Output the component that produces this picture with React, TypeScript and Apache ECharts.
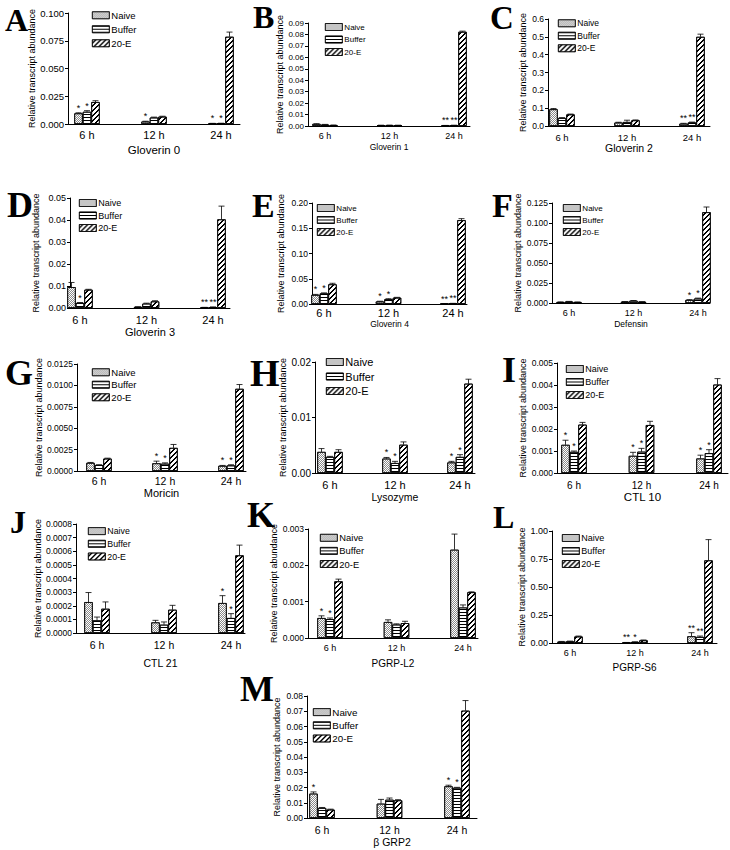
import React, { useEffect, useRef } from 'react';
import * as echarts from 'echarts';

// ---------- data ----------
const categories = ['6 h', '12 h', '24 h'];
const groupNames = ['Naive', 'Buffer', '20-E'];
const panelLetters = ['A', 'B', 'C', 'D', 'E', 'F', 'G', 'H', 'I', 'J', 'K', 'L', 'M'];
const panelTitles = ['Gloverin 0', 'Gloverin 1', 'Gloverin 2', 'Gloverin 3', 'Gloverin 4', 'Defensin', 'Moricin', 'Lysozyme', 'CTL 10', 'CTL 21', 'PGRP-L2', 'PGRP-S6', 'β GRP2'];
const yAxisTitle = 'Relative transcript abundance';
const yMaxes = [0.1, 0.09, 0.6, 0.05, 0.2, 0.125, 0.0125, 0.02, 0.005, 0.0008, 0.003, 1.0, 0.08];
const ySteps = [0.025, 0.01, 0.1, 0.01, 0.05, 0.025, 0.0025, 0.01, 0.001, 0.0001, 0.001, 0.25, 0.01];
const yDecimals = [3, 2, 1, 2, 2, 3, 4, 2, 3, 4, 3, 2, 2];

// each: [Naive, Buffer, 20-E] x [6 h, 12 h, 24 h]
const gloverin0Mean = [[0.0096, 0.0022, 0.0005], [0.011, 0.0058, 0.0006], [0.0198, 0.0066, 0.0786]];
const gloverin0Err = [[0.0005, 0.0003, 0.0001], [0.001, 0.0004, 0.0001], [0.0012, 0.0004, 0.0042]];
const gloverin0Stars = [['*', '*', '*'], ['*', '', '*'], ['', '', '']];

const gloverin1Mean = [[0.0018, 0.0006, 0.0004], [0.0012, 0.0007, 0.0006], [0.0008, 0.0006, 0.0823]];
const gloverin1Err = [[0.0002, 0.0001, 0.0001], [0.0002, 0.0001, 0.0001], [0.0001, 0.0001, 0.0006]];
const gloverin1Stars = [['', '', '**'], ['', '', '**'], ['', '', '']];

const gloverin2Mean = [[0.094, 0.019, 0.013], [0.045, 0.0225, 0.02], [0.065, 0.032, 0.5]];
const gloverin2Err = [[0.004, 0.002, 0.002], [0.002, 0.01, 0.002], [0.002, 0.002, 0.015]];
const gloverin2Stars = [['', '', '**'], ['', '', '**'], ['', '', '']];

const gloverin3Mean = [[0.0095, 0.0005, 0.0002], [0.0023, 0.002, 0.0004], [0.0083, 0.003, 0.0403]];
const gloverin3Err = [[0.0021, 0.0001, 0.0001], [0.0002, 0.0002, 0.0001], [0.0002, 0.0003, 0.006]];
const gloverin3Stars = [['', '', '**'], ['*', '', '**'], ['', '', '']];

const gloverin4Mean = [[0.018, 0.005, 0.0006], [0.021, 0.0095, 0.0012], [0.039, 0.0125, 0.166]];
const gloverin4Err = [[0.001, 0.0005, 0.0001], [0.001, 0.001, 0.0001], [0.002, 0.0007, 0.003]];
const gloverin4Stars = [['*', '*', '**'], ['*', '*', '**'], ['', '', '']];

const defensinMean = [[0.0012, 0.0016, 0.0038], [0.0018, 0.0028, 0.0055], [0.0012, 0.0015, 0.1135]];
const defensinErr = [[0.0002, 0.0002, 0.0004], [0.0002, 0.0003, 0.0006], [0.0001, 0.0002, 0.0065]];
const defensinStars = [['', '', '*'], ['', '', '*'], ['', '', '']];

const moricinMean = [[0.00095, 0.0009, 0.0006], [0.0007, 0.00085, 0.00065], [0.00145, 0.0027, 0.0096]];
const moricinErr = [[0.00005, 0.00025, 0.00005], [0.00003, 0.0001, 0.00008], [0.00005, 0.0004, 0.0005]];
const moricinStars = [['', '*', '*'], ['', '*', '*'], ['', '', '']];

const lysozymeMean = [[0.0038, 0.0026, 0.0019], [0.0029, 0.0018, 0.0029], [0.0038, 0.0051, 0.0161]];
const lysozymeErr = [[0.0006, 0.0002, 0.0002], [0.0001, 0.0003, 0.0004], [0.0004, 0.0005, 0.0008]];
const lysozymeStars = [['', '*', '*'], ['', '*', '*'], ['', '', '']];

const ctl10Mean = [[0.00128, 0.00078, 0.00066], [0.00096, 0.00097, 0.0009], [0.0022, 0.00218, 0.00402]];
const ctl10Err = [[0.00021, 0.00016, 0.00015], [0.00004, 0.00015, 0.00016], [0.0001, 0.00017, 0.00027]];
const ctl10Stars = [['*', '*', '*'], ['*', '*', '*'], ['', '', '']];

const ctl21Mean = [[0.000227, 0.000078, 0.00022], [0.000093, 0.000061, 0.00011], [0.000178, 0.000171, 0.00057]];
const ctl21Err = [[0.00007, 0.000015, 0.000054], [0.000024, 0.00002, 0.000032], [0.00005, 0.000032, 0.000075]];
const ctl21Stars = [['', '', '*'], ['', '', '*'], ['', '', '']];

const pgrpL2Mean = [[0.00055, 0.00044, 0.00243], [0.00052, 0.00037, 0.00084], [0.00156, 0.00041, 0.00126]];
const pgrpL2Err = [[0.00006, 0.00006, 0.00043], [0.00003, 0.00002, 0.00007], [0.00006, 0.00005, 0.00001]];
const pgrpL2Stars = [['*', '', ''], ['*', '', ''], ['', '', '']];

const pgrpS6Mean = [[0.012, 0.004, 0.06], [0.015, 0.009, 0.054], [0.058, 0.024, 0.738]];
const pgrpS6Err = [[0.002, 0.001, 0.032], [0.002, 0.002, 0.008], [0.004, 0.003, 0.185]];
const pgrpS6Stars = [['', '**', '**'], ['', '*', '**'], ['', '', '']];

const bgrp2Mean = [[0.016, 0.0094, 0.0208], [0.0066, 0.012, 0.0198], [0.0055, 0.0116, 0.0704]];
const bgrp2Err = [[0.0011, 0.0028, 0.0007], [0.0003, 0.0011, 0.0003], [0.0003, 0.0004, 0.0066]];
const bgrp2Stars = [['*', '', '*'], ['', '', '*'], ['', '', '']];

const panelMeans = [gloverin0Mean, gloverin1Mean, gloverin2Mean, gloverin3Mean, gloverin4Mean, defensinMean, moricinMean, lysozymeMean, ctl10Mean, ctl21Mean, pgrpL2Mean, pgrpS6Mean, bgrp2Mean];
const panelErrs = [gloverin0Err, gloverin1Err, gloverin2Err, gloverin3Err, gloverin4Err, defensinErr, moricinErr, lysozymeErr, ctl10Err, ctl21Err, pgrpL2Err, pgrpS6Err, bgrp2Err];
const panelStars = [gloverin0Stars, gloverin1Stars, gloverin2Stars, gloverin3Stars, gloverin4Stars, defensinStars, moricinStars, lysozymeStars, ctl10Stars, ctl21Stars, pgrpL2Stars, pgrpS6Stars, bgrp2Stars];

// ---------- layout (pixels) ----------
const layouts = [
  { left: 68, right: 240, top: 13, bottom: 124, centers: [87, 154, 221], labelMargin: 5.5, labelSize: 11, nameY: 150, nameSize: 11.5, yNameGap: 27, tickSize: 9.5, legendX: 92, legendY: 15, legendStep: 13.5, legendSize: 9.5, letterX: 5, letterY: 20, letterSize: 32 },
  { left: 308, right: 470, top: 23, bottom: 126, centers: [325, 389, 454], labelMargin: 5.5, labelSize: 9, nameY: 147, nameSize: 8.5, yNameGap: 20, tickSize: 8, legendX: 325, legendY: 27, legendStep: 12.5, legendSize: 8, letterX: 253, letterY: 17, letterSize: 32 },
  { left: 548, right: 710, top: 19, bottom: 126, centers: [562, 627, 692], labelMargin: 6, labelSize: 9.5, nameY: 147, nameSize: 10.5, yNameGap: 21, tickSize: 8.5, legendX: 558, legendY: 23, legendStep: 12, legendSize: 8.5, letterX: 490, letterY: 18, letterSize: 33 },
  { left: 70, right: 230, top: 198, bottom: 308, centers: [80, 147, 213], labelMargin: 6.5, labelSize: 11, nameY: 328, nameSize: 11, yNameGap: 30, tickSize: 9, legendX: 79, legendY: 203, legendStep: 12.5, legendSize: 9, letterX: 7, letterY: 205, letterSize: 36 },
  { left: 312, right: 467, top: 203, bottom: 304, centers: [324, 390, 453], labelMargin: 3.5, labelSize: 11, nameY: 324, nameSize: 8.5, yNameGap: 27, tickSize: 8.5, legendX: 317, legendY: 208, legendStep: 12, legendSize: 8, letterX: 252, letterY: 205, letterSize: 34 },
  { left: 552, right: 710, top: 203, bottom: 303, centers: [569, 632, 698], labelMargin: 5.5, labelSize: 9, nameY: 324, nameSize: 8.5, yNameGap: 24, tickSize: 8.5, legendX: 563, legendY: 208, legendStep: 12, legendSize: 8, letterX: 492, letterY: 205, letterSize: 34 },
  { left: 77, right: 246, top: 364, bottom: 471, centers: [99, 165, 231], labelMargin: 4.5, labelSize: 10.5, nameY: 493, nameSize: 11, yNameGap: 25, tickSize: 8.5, legendX: 92, legendY: 372, legendStep: 12, legendSize: 9.5, letterX: 5, letterY: 373, letterSize: 36 },
  { left: 315, right: 475, top: 362, bottom: 473, centers: [330, 395, 460], labelMargin: 6.5, labelSize: 11, nameY: 496, nameSize: 10.5, yNameGap: 27, tickSize: 10, legendX: 326, legendY: 362, legendStep: 14.5, legendSize: 11, letterX: 250, letterY: 373, letterSize: 38 },
  { left: 557, right: 728, top: 363, bottom: 473, centers: [574, 641, 709], labelMargin: 7, labelSize: 10, nameY: 496, nameSize: 11.5, yNameGap: 29, tickSize: 8.5, legendX: 566, legendY: 369, legendStep: 13, legendSize: 9, letterX: 502, letterY: 370, letterSize: 36 },
  { left: 76, right: 245, top: 524, bottom: 633, centers: [97, 164, 231], labelMargin: 6.7, labelSize: 10.5, nameY: 663, nameSize: 10.5, yNameGap: 28, tickSize: 8.5, legendX: 88, legendY: 531, legendStep: 12.5, legendSize: 8.8, letterX: 10, letterY: 522, letterSize: 32 },
  { left: 308, right: 478, top: 529, bottom: 638, centers: [330, 396, 463], labelMargin: 5.5, labelSize: 9, nameY: 663, nameSize: 10, yNameGap: 21, tickSize: 8.5, legendX: 320, legendY: 538, legendStep: 13.5, legendSize: 9.4, letterX: 247, letterY: 515, letterSize: 36 },
  { left: 552, right: 717, top: 531, bottom: 643, centers: [570, 636, 700], labelMargin: 5.5, labelSize: 9, nameY: 667, nameSize: 10, yNameGap: 22, tickSize: 9, legendX: 562, legendY: 538, legendStep: 13, legendSize: 9, letterX: 493, letterY: 517, letterSize: 32 },
  { left: 307, right: 477, top: 696, bottom: 818, centers: [322, 389, 457], labelMargin: 6.7, labelSize: 10.5, nameY: 840, nameSize: 10.5, yNameGap: 26, tickSize: 8.5, legendX: 313, legendY: 712, legendStep: 13, legendSize: 9.8, letterX: 240, letterY: 689, letterSize: 36 },
];

const SANS = '"Liberation Sans", Arial, Helvetica, sans-serif';
const SERIF = '"Liberation Serif", "Times New Roman", Times, serif';
const BAR_W = 8.5;

const decals: any[] = [
  // fine stipple
  { symbol: 'rect', symbolSize: 1, dashArrayX: [[1, 1], [0, 1, 1, 0]], dashArrayY: [1, 0], color: '#8a8a8a' },
  // horizontal lines
  { symbol: 'rect', symbolSize: 1, dashArrayX: [1, 0], dashArrayY: [1, 2], color: '#000' },
  // "/" diagonal hatching built as a pixel staircase
  { symbol: 'rect', symbolSize: 1, dashArrayX: [[0, 3, 2, 0], [0, 2, 2, 1], [0, 1, 2, 2], [2, 3], [1, 3, 1, 0]], dashArrayY: [1, 0], color: '#000' },
];

function buildOption() {
  const grid: any[] = [];
  const xAxis: any[] = [];
  const yAxis: any[] = [];
  const series: any[] = [];
  const legend: any[] = [];
  const graphic: any[] = [];

  layouts.forEach((L, i) => {
    const s = (L.centers[2] - L.centers[0]) / 2;
    const xMin = -(L.centers[0] - L.left) / s;
    const xMax = 2 + (L.right - L.centers[2]) / s;
    const off = BAR_W / s;
    const means = panelMeans[i];
    const errs = panelErrs[i];
    const stars = panelStars[i];
    const dec = yDecimals[i];

    grid.push({ left: L.left, top: L.top, width: L.right - L.left, height: L.bottom - L.top, containLabel: false });

    xAxis.push({
      type: 'value', gridIndex: i, min: xMin, max: xMax,
      axisLine: { show: true, onZero: false, lineStyle: { color: '#000', width: 1 } },
      axisTick: { show: false },
      splitLine: { show: false },
      axisLabel: {
        customValues: [0, 1, 2],
        formatter: (v: number) => categories[Math.round(v)] ?? '',
        fontSize: L.labelSize, color: '#000', margin: L.labelMargin, fontFamily: SANS,
      },
      name: panelTitles[i], nameLocation: 'middle', nameGap: L.nameY - L.bottom - L.nameSize / 2,
      nameTextStyle: { fontSize: L.nameSize, color: '#000', fontFamily: SANS },
    });

    yAxis.push({
      type: 'value', gridIndex: i, min: 0, max: yMaxes[i], interval: ySteps[i],
      axisLine: { show: true, onZero: false, lineStyle: { color: '#000', width: 1 } },
      axisTick: { show: true, length: 3, lineStyle: { color: '#000', width: 1 } },
      splitLine: { show: false },
      axisLabel: { formatter: (v: number) => v.toFixed(dec), fontSize: L.tickSize, color: '#000', margin: 4, fontFamily: SANS },
      name: yAxisTitle, nameLocation: 'middle', nameGap: L.yNameGap,
      nameTextStyle: { fontSize: 9, color: '#000', fontFamily: SANS },
    });

    const errData: number[][] = [];
    const starList: string[] = [];
    for (let k = 0; k < 3; k++) {
      series.push({
        type: 'bar', name: groupNames[k], xAxisIndex: i, yAxisIndex: i,
        data: means[k].map((v, j) => [j + (k - 1) * off, v]),
        barWidth: BAR_W, barGap: '-100%',
        itemStyle: { color: '#fff', borderColor: '#000', borderWidth: 0.8, decal: decals[k] },
        silent: true, emphasis: { disabled: true },
      });
      for (let j = 0; j < 3; j++) {
        errData.push([j + (k - 1) * off, means[k][j], errs[k][j]]);
        starList.push(stars[k][j]);
      }
    }

    series.push({
      type: 'custom', xAxisIndex: i, yAxisIndex: i, data: errData, z: 5, silent: true,
      renderItem: (params: any, api: any) => {
        const x = api.value(0);
        const v = api.value(1);
        const e = api.value(2);
        const base = api.coord([x, v]);
        const tip = api.coord([x, v + e]);
        const children: any[] = [];
        if (e > 0) {
          children.push({ type: 'line', shape: { x1: base[0], y1: base[1], x2: tip[0], y2: tip[1] }, style: { stroke: '#000', lineWidth: 0.8 } });
          children.push({ type: 'line', shape: { x1: tip[0] - 3, y1: tip[1], x2: tip[0] + 3, y2: tip[1] }, style: { stroke: '#000', lineWidth: 0.8 } });
        }
        const st = starList[params.dataIndex];
        if (st) {
          children.push({
            type: 'text', x: tip[0], y: tip[1] - 5,
            style: { text: st, fill: '#000', fontSize: 9, fontFamily: SANS, align: 'center', verticalAlign: 'middle', textAlign: 'center', textVerticalAlign: 'middle' },
          });
        }
        return { type: 'group', children };
      },
    });

    legend.push({
      data: groupNames, orient: 'vertical', left: L.legendX, top: L.legendY - L.legendSize / 2,
      itemWidth: 17, itemHeight: 7, itemGap: L.legendStep - L.legendSize, padding: 0,
      icon: 'rect', selectedMode: false,
      itemStyle: { borderWidth: 0.7 },
      textStyle: { fontSize: L.legendSize, color: '#000', fontFamily: SANS, padding: [0, 0, 0, -3] },
    });

    graphic.push({
      type: 'text', x: L.letterX, y: L.letterY, silent: true,
      style: { text: panelLetters[i], fill: '#000', fontSize: L.letterSize, fontWeight: 'bold', fontFamily: SERIF, align: 'left', verticalAlign: 'middle', textAlign: 'left', textVerticalAlign: 'middle' },
    });
  });

  return {
    animation: false,
    backgroundColor: '#fff',
    textStyle: { fontFamily: SANS },
    grid, xAxis, yAxis, series, legend, graphic,
  };
}

export default function App() {
  const ref = useRef<HTMLDivElement>(null);
  useEffect(() => {
    if (!ref.current) return;
    const chart = echarts.init(ref.current, undefined, { renderer: 'svg' });
    chart.setOption(buildOption() as any);
    return () => chart.dispose();
  }, []);
  return <div ref={ref} style={{ position: 'absolute', left: 0, top: 0, width: 730, height: 850, background: '#fff' }} />;
}
